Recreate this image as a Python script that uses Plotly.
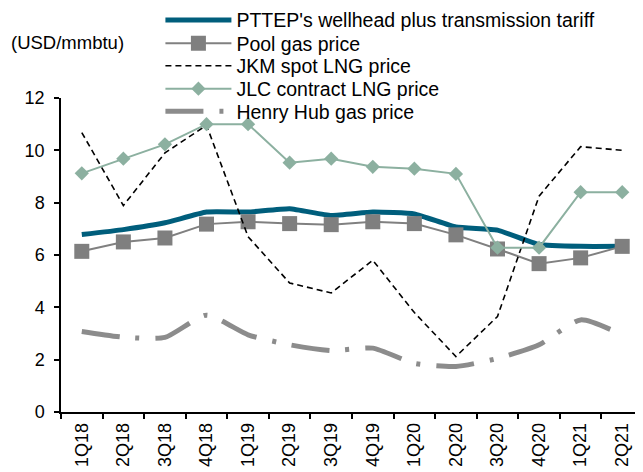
import plotly.graph_objects as go

quarters = ["1Q18", "2Q18", "3Q18", "4Q18", "1Q19", "2Q19", "3Q19", "4Q19",
            "1Q20", "2Q20", "3Q20", "4Q20", "1Q21", "2Q21"]
pttep = [6.78, 6.97, 7.23, 7.64, 7.64, 7.77, 7.51, 7.64, 7.57, 7.07, 6.95, 6.40, 6.33, 6.33]
pool = [6.14, 6.50, 6.65, 7.18, 7.27, 7.20, 7.16, 7.27, 7.20, 6.77, 6.23, 5.67, 5.89, 6.33]
jkm = [10.68, 7.89, 9.90, 10.96, 6.70, 4.93, 4.55, 5.80, 3.80, 2.12, 3.65, 8.25, 10.14, 10.00]
jlc = [9.12, 9.68, 10.23, 11.0, 11.0, 9.53, 9.68, 9.37, 9.30, 9.10, 6.28, 6.28, 8.40, 8.40]
henry = [3.08, 2.86, 2.85, 3.70, 2.95, 2.57, 2.35, 2.44, 1.86, 1.74, 2.05, 2.57, 3.52, 2.95]

FONT = "Arial, Liberation Sans, sans-serif"
W, H = 635, 464
ML, MT, MB = 52.5, 90, 60
PW = W - ML
PH = H - MT - MB

def py(fy):
    return (H - MB - fy) / PH

def px(fx):
    return (fx - ML) / PW

fig = go.Figure()
fig.add_trace(go.Scatter(x=quarters, y=pttep, mode="lines",
                         name="PTTEP's wellhead plus transmission tariff", legend="legend",
                         line=dict(color="#005E7C", width=5, shape="spline", smoothing=0.4)))
fig.add_trace(go.Scatter(x=quarters, y=pool, mode="lines+markers", name="Pool gas price",
                         legend="legend2",
                         line=dict(color="#808080", width=2),
                         marker=dict(symbol="square", size=15, color="#7F7F7F")))
fig.add_trace(go.Scatter(x=quarters, y=jkm, mode="lines", name="JKM spot LNG price",
                         legend="legend3",
                         line=dict(color="black", width=1.6, dash="6px,4px")))
fig.add_trace(go.Scatter(x=quarters, y=jlc, mode="lines+markers", name="JLC contract LNG price",
                         legend="legend4",
                         line=dict(color="#8CB0A0", width=2),
                         marker=dict(symbol="diamond", size=11, color="#8CB0A0")))
fig.add_trace(go.Scatter(x=quarters, y=henry, mode="lines", name="Henry Hub gas price",
                         legend="legend5",
                         line=dict(color="#8C8C8C", width=5, dash="38px,16px,4px,16px",
                                   shape="spline", smoothing=0.6)))

fig.add_annotation(text="(USD/mmbtu)", xref="paper", yref="paper",
                   x=px(0), y=py(34), xanchor="left", yanchor="middle",
                   showarrow=False, font=dict(family=FONT, size=18.5, color="black"))

leg_rows = [12.2, 35.5, 58, 81, 103.5]
legend_common = dict(x=px(152), xanchor="left", yanchor="middle", bgcolor="rgba(0,0,0,0)",
                     font=dict(family=FONT, size=19.5, color="black"), itemwidth=66,
                     borderwidth=0)
legends = {}
for i, fy in enumerate(leg_rows):
    key = "legend" if i == 0 else f"legend{i + 1}"
    legends[key] = dict(legend_common, y=py(fy))

fig.update_layout(
    width=W, height=H,
    margin=dict(l=ML, r=0, t=MT, b=MB, autoexpand=False),
    paper_bgcolor="white", plot_bgcolor="white",
    font=dict(family=FONT, size=18, color="black"),
    showlegend=True,
    xaxis=dict(type="category", range=[-0.5, 13.5], showline=True, linecolor="black",
               linewidth=1.5, ticks="outside", ticklen=5, tickcolor="black", tickwidth=1.5,
               tickson="boundaries", tickangle=-90, showgrid=False, zeroline=False,
               ticklabelstandoff=2,
               tickfont=dict(family=FONT, size=18, color="black")),
    yaxis=dict(range=[0, 12], dtick=2, showline=True, linecolor="black", linewidth=1.5,
               ticks="outside", ticklen=5, tickcolor="black", tickwidth=1.5,
               showgrid=False, zeroline=False, ticklabelstandoff=6,
               tickfont=dict(family=FONT, size=18, color="black")),
    **legends,
)

fig.write_html("out.html")
